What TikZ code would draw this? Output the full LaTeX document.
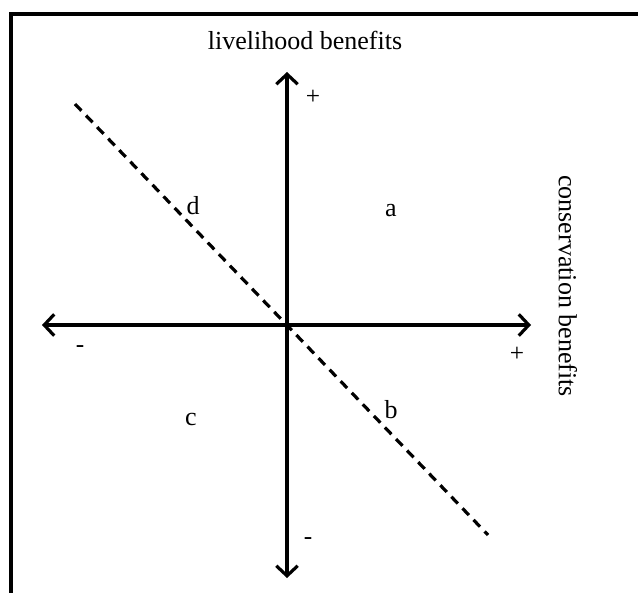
\documentclass[tikz,border=0pt]{standalone}
\usepackage{fontspec}
\setmainfont{Liberation Serif}
\usetikzlibrary{arrows.meta,positioning}

\begin{document}
\begin{tikzpicture}[
  x=0.75pt, y=-0.75pt,
  font=\fontsize{19.5}{22}\selectfont,
  axis/.style={line width=2.4pt, -{Straight Barb[length=7.5pt, width=16pt]}},
  tradeoff/.style={line width=2.4pt, dash pattern=on 7pt off 5pt},
  frame/.style={line width=2.4pt},
  quad/.style={inner sep=0pt},
  sign/.style={inner sep=0pt, font=\fontsize{19}{21}\selectfont}
]
\useasboundingbox (0,0) rectangle (638,592);

\draw[frame] (11,600) -- (11,14) -- (645,14);

\coordinate (origin) at (287,325);
\coordinate (ytop) at (287,72);
\coordinate (ybot) at (287,578);
\coordinate (xleft) at (42,325);
\coordinate (xright) at (531,325);
\coordinate (tstart) at (75,104);
\coordinate (tend) at (488,535);

\draw[tradeoff] (tstart) -- (tend);
\draw[axis] (origin) -- (ytop);
\draw[axis] (origin) -- (ybot);
\draw[axis] (origin) -- (xleft);
\draw[axis] (origin) -- (xright);

\node (ylabel) at (305,40) {livelihood benefits};
\node[rotate=-90] (xlabel) at (568,286) {conservation benefits};

\node[sign] (yplus) at (313,97) {+};
\node[sign] (yminus) at (308,541) {-};
\node[sign] (xplus) at (517,354) {+};
\node[sign] (xminus) at (80,349) {-};

\node[quad] (a) at (391,211) {a};
\node[quad] (b) at (391,410) {b};
\node[quad] (c) at (191,419) {c};
\node[quad] (d) at (193,206) {d};

\end{tikzpicture}
\end{document}
